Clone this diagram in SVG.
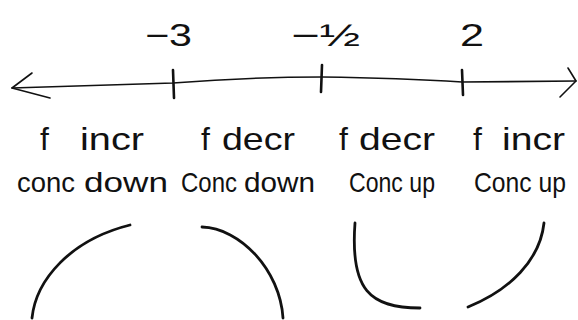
<svg xmlns="http://www.w3.org/2000/svg" width="578" height="320" viewBox="0 0 578 320">
<style>
.bg{fill:#ffffff}
.ax{fill:none;stroke:#111;stroke-width:1.6;stroke-linecap:round;stroke-linejoin:round}
.tk{fill:none;stroke:#111;stroke-width:2.6;stroke-linecap:round}
.cv{fill:none;stroke:#111;stroke-width:2.8;stroke-linecap:round}
.lbl{font-family:"Liberation Sans","DejaVu Sans",sans-serif;font-size:31px;fill:#111}
.t1{font-family:"Liberation Sans","DejaVu Sans",sans-serif;font-size:32px;fill:#111}
.t2{font-family:"Liberation Sans","DejaVu Sans",sans-serif;font-size:28px;fill:#111}
</style>
<rect class="bg" x="0" y="0" width="578" height="320"/>
<g id="number-line">
<path class="ax" d="M12,88 L173,83 Q250,77 322,77 Q400,78 462,82 L576,81"/>
<path class="ax" d="M32,73 L12,88 L50,98"/>
<path class="ax" d="M568,68 L576,81 L560,97"/>
<path class="tk" d="M173,70 L174,98"/>
<path class="tk" d="M322,65 L321,92"/>
<path class="tk" d="M462,70 L463,95"/>
</g>
<g id="tick-labels">
<text class="lbl" x="145" y="46" textLength="47" lengthAdjust="spacingAndGlyphs">−3</text>
<text class="lbl" x="291" y="46" textLength="69" lengthAdjust="spacingAndGlyphs">−½</text>
<text class="lbl" x="460" y="46" textLength="24" lengthAdjust="spacingAndGlyphs">2</text>
</g>
<g id="interval-1">
<text class="t1" y="150"><tspan x="40">f</tspan> <tspan x="80" textLength="64" lengthAdjust="spacingAndGlyphs">incr</tspan></text>
<text class="t2" y="192"><tspan x="17" textLength="58" lengthAdjust="spacingAndGlyphs">conc</tspan> <tspan x="84" textLength="84" lengthAdjust="spacingAndGlyphs">down</tspan></text>
<path class="cv" d="M32,318 C36,280 70,240 130,225"/>
</g>
<g id="interval-2">
<text class="t1" y="150"><tspan x="201">f</tspan> <tspan x="222" textLength="73" lengthAdjust="spacingAndGlyphs">decr</tspan></text>
<text class="t2" y="192"><tspan x="181" textLength="56" lengthAdjust="spacingAndGlyphs">Conc</tspan> <tspan x="244" textLength="71" lengthAdjust="spacingAndGlyphs">down</tspan></text>
<path class="cv" d="M202,227 C240,228 280,270 283,318"/>
</g>
<g id="interval-3">
<text class="t1" y="150"><tspan x="339">f</tspan> <tspan x="359" textLength="76" lengthAdjust="spacingAndGlyphs">decr</tspan></text>
<text class="t2" x="349" y="192" textLength="86" lengthAdjust="spacingAndGlyphs">Conc up</text>
<path class="cv" d="M355,223 C350,290 370,308 420,308"/>
</g>
<g id="interval-4">
<text class="t1" y="150"><tspan x="473">f</tspan> <tspan x="502" textLength="63" lengthAdjust="spacingAndGlyphs">incr</tspan></text>
<text class="t2" x="474" y="192" textLength="92" lengthAdjust="spacingAndGlyphs">Conc up</text>
<path class="cv" d="M468,307 C510,290 540,260 544,223"/>
</g>
</svg>
